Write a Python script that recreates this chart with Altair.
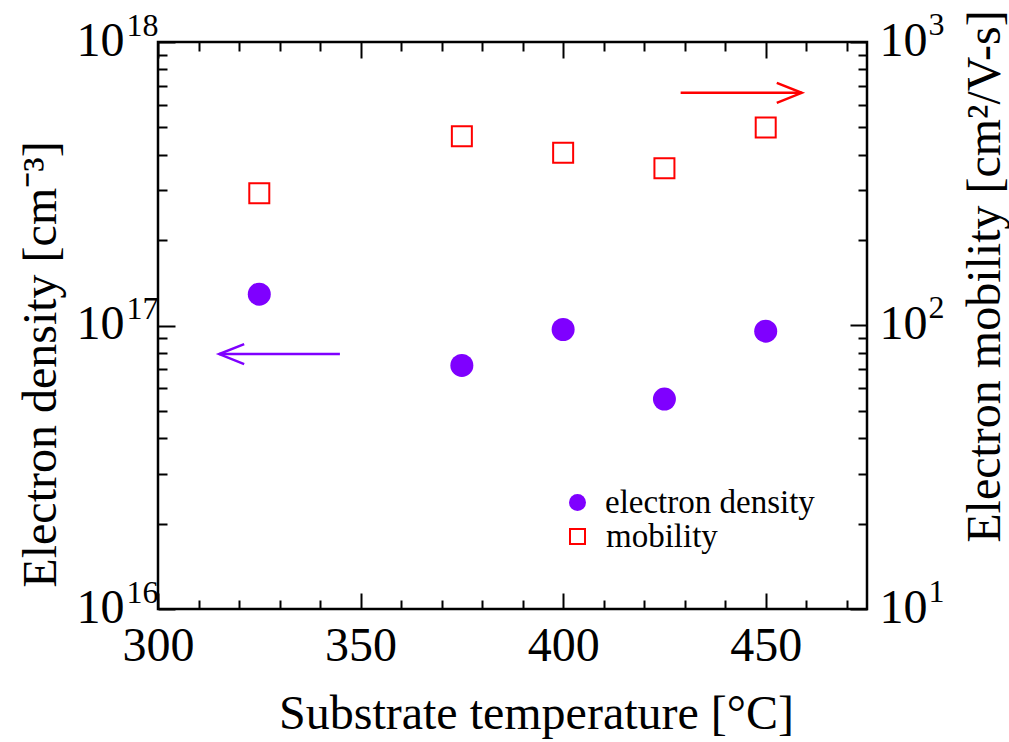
import altair as alt
import pandas as pd

# ---------------- data ----------------
temperature = [325, 375, 400, 425, 450]
electron_density = [1.29e17, 7.23e16, 9.68e16, 5.50e16, 9.55e16]
electron_mobility = [293, 465, 407, 359, 499]

density_label = "electron density"
mobility_label = "mobility"

x_major = [300, 350, 400, 450]
x_minor = [310, 320, 330, 340, 360, 370, 380, 390, 410, 420, 430, 440, 460, 470]
density_major = [1e16, 1e17, 1e18]
density_minor = [k * 10.0 ** e for e in (16, 17) for k in range(2, 10)]
mobility_major = [10, 100, 1000]
mobility_minor = [k * 10.0 ** e for e in (1, 2) for k in range(2, 10)]

# annotation arrows (data coordinates)
arrow_density_x = [344.9]
arrow_density_x2 = [315.1]
arrow_density_y = [7.93e16]
arrow_mobility_x = [429.0]
arrow_mobility_x2 = [458.9]
arrow_mobility_y = [662]

# ---------------- styling ----------------
FONT = "Liberation Serif"
PURPLE = "#7F00FF"
RED = "#FF0000"
W, H = 709, 567

dens_df = pd.DataFrame({"t": temperature, "density": electron_density,
                        "series": [density_label] * len(temperature)})
mob_df = pd.DataFrame({"t": temperature, "mobility": electron_mobility,
                       "series": [mobility_label] * len(temperature)})
arr_d = pd.DataFrame({"x1": arrow_density_x, "x2": arrow_density_x2, "y": arrow_density_y})
arr_m = pd.DataFrame({"x1": arrow_mobility_x, "x2": arrow_mobility_x2, "y": arrow_mobility_y})

xs = alt.Scale(domain=[300, 475], nice=False, zero=False)
ds = alt.Scale(type="log", domain=[1e16, 1e18], nice=False)
ms = alt.Scale(type="log", domain=[10, 1000], nice=False)


def ax(orient, values, **kw):
    base = dict(orient=orient, values=values, grid=False, domain=False,
                labelOverlap=False, labelFlush=False, title=None,
                ticks=False, labels=False)
    base.update(kw)
    return alt.Axis(**base)


def axis_layer(df, yfield, yscale, xaxis, yaxis):
    return alt.Chart(df).mark_point(opacity=0).encode(
        x=alt.X("t:Q", scale=xs, axis=xaxis),
        y=alt.Y(f"{yfield}:Q", scale=yscale, axis=yaxis),
    )


EXP = "'' + round(log(datum.value) / LN10)"

# axes
B1 = ax("bottom", x_major, labels=True, labelPadding=13,
        title="Substrate temperature [°C]", titleX=378, titleY=119,
        titleAlign="center", titleBaseline="alphabetic")
B2 = ax("bottom", x_major, ticks=True, tickSize=16, offset=-16)
B3 = ax("bottom", x_minor, ticks=True, tickSize=9, offset=-9)
T2 = ax("top", x_major, ticks=True, tickSize=16, offset=-16)
T3 = ax("top", x_minor, ticks=True, tickSize=9, offset=-9)

L1 = ax("left", density_major, labels=True, labelExpr="'10'", labelPadding=34,
        labelOffset=-1, title="Electron density [cm⁻³]", titleAngle=270,
        titleX=-103, titleY=322, titleAlign="center", titleBaseline="alphabetic")
L2 = ax("left", density_major, labels=True, labelExpr=EXP, labelFontSize=32,
        labelPadding=0, labelOffset=-17)
L3 = ax("left", density_major, ticks=True, tickSize=17, offset=-17)
L4 = ax("left", density_minor, ticks=True, tickSize=9, offset=-9)

R1 = ax("right", mobility_major, labels=True, labelExpr="'10'", labelPadding=12,
        labelOffset=-1, title="Electron mobility [cm²/V-s]", titleAngle=270,
        titleX=132, titleY=234, titleAlign="center", titleBaseline="alphabetic")
R2 = ax("right", mobility_major, labels=True, labelExpr=EXP, labelFontSize=32,
        labelPadding=61, labelOffset=-18)
R3 = ax("right", mobility_major, ticks=True, tickSize=17, offset=-17)
R4 = ax("right", mobility_minor, ticks=True, tickSize=9, offset=-9)

axis_layers = [
    axis_layer(dens_df, "density", ds, B1, L1),
    axis_layer(dens_df, "density", ds, B2, L2),
    axis_layer(dens_df, "density", ds, B3, L3),
    axis_layer(dens_df, "density", ds, T2, L4),
    axis_layer(mob_df, "mobility", ms, T3, R1),
    axis_layer(mob_df, "mobility", ms, None, R2),
    axis_layer(mob_df, "mobility", ms, None, R3),
    axis_layer(mob_df, "mobility", ms, None, R4),
]

dens_pts = alt.Chart(dens_df).mark_circle(size=529, opacity=1).encode(
    x=alt.X("t:Q", scale=xs, axis=None),
    y=alt.Y("density:Q", scale=ds, axis=None),
    color=alt.Color("series:N",
                    scale=alt.Scale(domain=[density_label], range=[PURPLE]),
                    legend=alt.Legend(title=None, orient="none", legendX=403, legendY=444,
                                      symbolType="circle", symbolSize=289,
                                      labelFont=FONT, labelFontSize=33, labelColor="black",
                                      labelOffset=11, labelLimit=400, padding=0)),
)

mob_pts = alt.Chart(mob_df).mark_point(shape="square", filled=False, size=400,
                                       strokeWidth=2, opacity=1).encode(
    x=alt.X("t:Q", scale=xs, axis=None),
    y=alt.Y("mobility:Q", scale=ms, axis=None),
    color=alt.Color("series:N",
                    scale=alt.Scale(domain=[mobility_label], range=[RED]),
                    legend=alt.Legend(title=None, orient="none", legendX=403, legendY=478,
                                      symbolType="square", symbolSize=225,
                                      symbolStrokeWidth=2,
                                      labelFont=FONT, labelFontSize=33, labelColor="black",
                                      labelOffset=12, labelLimit=400, padding=0)),
)

rule_d = alt.Chart(arr_d).mark_rule(color=PURPLE, strokeWidth=2.5).encode(
    x=alt.X("x1:Q", scale=xs, axis=None), x2="x2:Q",
    y=alt.Y("y:Q", scale=ds, axis=None))
head_d = alt.Chart(arr_d).mark_point(shape="M1,-0.4L0,0L1,0.4", size=2500, filled=False,
                                     color=PURPLE, strokeWidth=2.5, opacity=1).encode(
    x=alt.X("x2:Q", scale=xs, axis=None),
    y=alt.Y("y:Q", scale=ds, axis=None))
rule_m = alt.Chart(arr_m).mark_rule(color=RED, strokeWidth=2.5).encode(
    x=alt.X("x1:Q", scale=xs, axis=None), x2="x2:Q",
    y=alt.Y("y:Q", scale=ms, axis=None))
head_m = alt.Chart(arr_m).mark_point(shape="M-1,-0.4L0,0L-1,0.4", size=2500, filled=False,
                                     color=RED, strokeWidth=2.5, opacity=1).encode(
    x=alt.X("x2:Q", scale=xs, axis=None),
    y=alt.Y("y:Q", scale=ms, axis=None))

chart = alt.layer(
    *axis_layers, rule_d, head_d, rule_m, head_m, mob_pts, dens_pts
).resolve_scale(
    y="independent", color="independent"
).resolve_axis(
    x="independent", y="independent"
).resolve_legend(
    color="independent"
).properties(
    width=W, height=H,
    autosize=alt.AutoSizeParams(type="none"),
    padding={"left": 158, "top": 42, "right": 142, "bottom": 133},
    background="white",
).configure_view(
    stroke="black", strokeWidth=2.5
).configure_axis(
    labelFont=FONT, titleFont=FONT, labelColor="black", titleColor="black",
    tickColor="black", tickWidth=2, labelFontSize=48, titleFontSize=48,
    titleFontWeight="normal", domainColor="black",
)

chart.save("out.html", embed_options={"renderer": "svg", "actions": False})
